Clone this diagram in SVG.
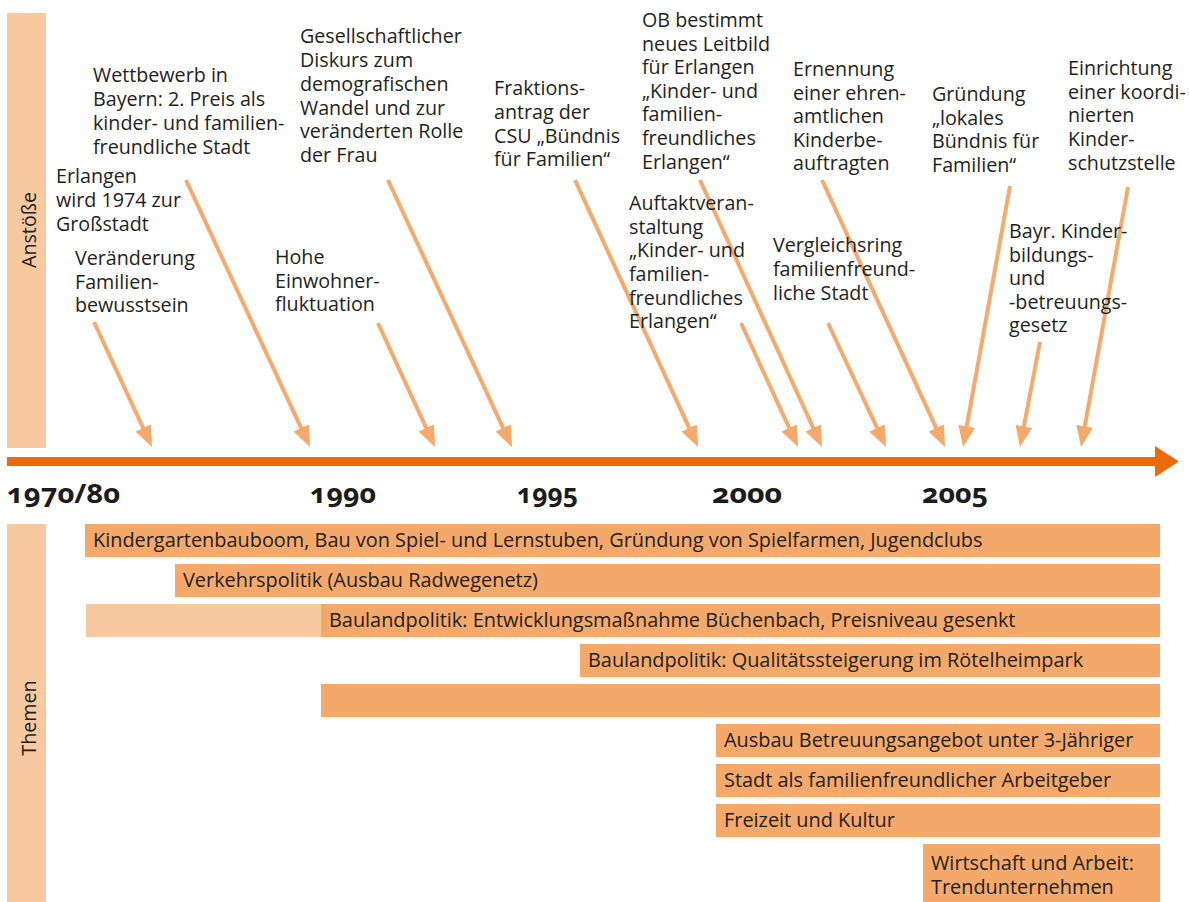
<svg xmlns="http://www.w3.org/2000/svg" width="1189" height="902" viewBox="0 0 1189 902">
<defs>
<style>
.t{font-family:"Open Sans","Noto Sans","Liberation Sans",sans-serif;font-size:19.7px;fill:#231f20}
.b{font-family:"Open Sans","Noto Sans","Liberation Sans",sans-serif;font-size:19.9px;fill:#231f20}
.yr{font-family:"Open Sans","Noto Sans","Liberation Sans",sans-serif;font-size:27px;font-weight:bold;fill:#1d1b1c;font-variant-numeric:oldstyle-nums}
.side{fill:#f8c9a0}
.bar{fill:#f4a96b}
.light{fill:#f8c9a0}
.arr{stroke:#f5a96b;stroke-width:4;fill:none;marker-end:url(#ah)}
.axis{fill:#e96b0c}
</style>
<marker id="ah" viewBox="0 0 21 17" refX="15" refY="8.5" markerWidth="21" markerHeight="17" markerUnits="userSpaceOnUse" orient="auto">
<path d="M0,0 L21,8.5 L0,17 z" fill="#f5a96b"/>
</marker>
</defs>
<rect width="1189" height="902" fill="#ffffff"/>

<g id="sidebar-anstoesse">
<rect class="side" x="7" y="13" width="39" height="435"/>
<text class="t" transform="translate(36,230) rotate(-90)" text-anchor="middle">Anstöße</text>
</g>
<g id="sidebar-themen">
<rect class="side" x="7" y="524" width="39" height="378"/>
<text class="t" transform="translate(36,718) rotate(-90)" text-anchor="middle">Themen</text>
</g>

<g id="axis">
<rect class="axis" x="7" y="457" width="1150" height="9"/>
<polygon class="axis" points="1155,446 1179,461.5 1155,477"/>
<text class="yr" x="7" y="503" textLength="113" lengthAdjust="spacingAndGlyphs">1970/80</text>
<text class="yr" x="310" y="503" textLength="66" lengthAdjust="spacingAndGlyphs">1990</text>
<text class="yr" x="517" y="503" textLength="61" lengthAdjust="spacingAndGlyphs">1995</text>
<text class="yr" x="712" y="503" textLength="70" lengthAdjust="spacingAndGlyphs">2000</text>
<text class="yr" x="922" y="503" textLength="66" lengthAdjust="spacingAndGlyphs">2005</text>
</g>

<g id="connectors">
<line class="arr" x1="94" y1="322" x2="149.5" y2="441.6"/>
<line class="arr" x1="186" y1="180" x2="307.5" y2="441.6"/>
<line class="arr" x1="378" y1="323" x2="432.5" y2="441.6"/>
<line class="arr" x1="388" y1="180" x2="509.5" y2="441.6"/>
<line class="arr" x1="575" y1="180" x2="695.5" y2="441.6"/>
<line class="arr" x1="741" y1="323" x2="795.5" y2="441.6"/>
<line class="arr" x1="700" y1="180" x2="819.5" y2="441.6"/>
<line class="arr" x1="828" y1="323" x2="883.5" y2="441.6"/>
<line class="arr" x1="822" y1="180" x2="942.5" y2="441.6"/>
<line class="arr" x1="1010" y1="186" x2="964.1" y2="441.1"/>
<line class="arr" x1="1040" y1="342" x2="1021.1" y2="441.1"/>
<line class="arr" x1="1128" y1="187" x2="1082.1" y2="441.1"/>
</g>

<g id="n-wettbewerb"><text class="t">
<tspan x="93" y="82">Wettbewerb in</tspan>
<tspan x="93" y="106">Bayern: 2. Preis als</tspan>
<tspan x="93" y="130">kinder- und familien-</tspan>
<tspan x="93" y="154">freundliche Stadt</tspan>
</text></g>
<g id="n-erlangen"><text class="t">
<tspan x="56" y="183">Erlangen</tspan>
<tspan x="56" y="207">wird 1974 zur</tspan>
<tspan x="56" y="231">Großstadt</tspan>
</text></g>
<g id="n-veraenderung"><text class="t">
<tspan x="75" y="265">Veränderung</tspan>
<tspan x="75" y="288.5">Familien-</tspan>
<tspan x="75" y="312">bewusstsein</tspan>
</text></g>
<g id="n-hohe"><text class="t">
<tspan x="275" y="264">Hohe</tspan>
<tspan x="275" y="287.5">Einwohner-</tspan>
<tspan x="275" y="311">fluktuation</tspan>
</text></g>
<g id="n-gesellschaft"><text class="t">
<tspan x="300" y="43">Gesellschaftlicher</tspan>
<tspan x="300" y="67">Diskurs zum</tspan>
<tspan x="300" y="91">demografischen</tspan>
<tspan x="300" y="114.5">Wandel und zur</tspan>
<tspan x="300" y="138">veränderten Rolle</tspan>
<tspan x="300" y="162">der Frau</tspan>
</text></g>
<g id="n-fraktion"><text class="t">
<tspan x="494" y="95">Fraktions-</tspan>
<tspan x="494" y="119">antrag der</tspan>
<tspan x="494" y="142.5">CSU „Bündnis</tspan>
<tspan x="494" y="166">für Familien“</tspan>
</text></g>
<g id="n-ob"><text class="t">
<tspan x="642" y="27">OB bestimmt</tspan>
<tspan x="642" y="50.6">neues Leitbild</tspan>
<tspan x="642" y="74.2">für Erlangen</tspan>
<tspan x="642" y="97.8">„Kinder- und</tspan>
<tspan x="642" y="121.4">familien-</tspan>
<tspan x="642" y="145">freundliches</tspan>
<tspan x="642" y="168.6">Erlangen“</tspan>
</text></g>
<g id="n-auftakt"><text class="t">
<tspan x="629" y="210">Auftaktveran-</tspan>
<tspan x="629" y="233.7">staltung</tspan>
<tspan x="629" y="257.4">„Kinder- und</tspan>
<tspan x="629" y="281">familien-</tspan>
<tspan x="629" y="304.7">freundliches</tspan>
<tspan x="629" y="328.4">Erlangen“</tspan>
</text></g>
<g id="n-ernennung"><text class="t">
<tspan x="793" y="76">Ernennung</tspan>
<tspan x="793" y="99.5">einer ehren-</tspan>
<tspan x="793" y="123">amtlichen</tspan>
<tspan x="793" y="146.5">Kinderbe-</tspan>
<tspan x="793" y="170">auftragten</tspan>
</text></g>
<g id="n-vergleichsring"><text class="t">
<tspan x="773" y="252">Vergleichsring</tspan>
<tspan x="773" y="276">familienfreund-</tspan>
<tspan x="773" y="300">liche Stadt</tspan>
</text></g>
<g id="n-gruendung"><text class="t">
<tspan x="932" y="101">Gründung</tspan>
<tspan x="932" y="124.7">„lokales</tspan>
<tspan x="932" y="148.4">Bündnis für</tspan>
<tspan x="932" y="172">Familien“</tspan>
</text></g>
<g id="n-einrichtung"><text class="t">
<tspan x="1068" y="75">Einrichtung</tspan>
<tspan x="1068" y="98.7">einer koordi-</tspan>
<tspan x="1068" y="122.4">nierten</tspan>
<tspan x="1068" y="146">Kinder-</tspan>
<tspan x="1068" y="169.7">schutzstelle</tspan>
</text></g>
<g id="n-bayr"><text class="t">
<tspan x="1009" y="238">Bayr. Kinder-</tspan>
<tspan x="1009" y="261.5">bildungs-</tspan>
<tspan x="1009" y="285">und</tspan>
<tspan x="1009" y="308.5">-betreuungs-</tspan>
<tspan x="1009" y="332">gesetz</tspan>
</text></g>

<g id="bar-kindergarten">
<rect class="bar" x="85" y="524" width="1075" height="33"/>
<text class="b" x="93" y="547">Kindergartenbauboom, Bau von Spiel- und Lernstuben, Gründung von Spielfarmen, Jugendclubs</text>
</g>
<g id="bar-verkehr">
<rect class="bar" x="175" y="564" width="985" height="33"/>
<text class="b" x="183" y="587">Verkehrspolitik (Ausbau Radwegenetz)</text>
</g>
<g id="bar-bauland1">
<rect class="light" x="86" y="604" width="235" height="33"/>
<rect class="bar" x="321" y="604" width="839" height="33"/>
<text class="b" x="329" y="627">Baulandpolitik: Entwicklungsmaßnahme Büchenbach, Preisniveau gesenkt</text>
</g>
<g id="bar-bauland2">
<rect class="bar" x="580" y="644" width="580" height="33"/>
<text class="b" x="588" y="667">Baulandpolitik: Qualitätssteigerung im Rötelheimpark</text>
</g>
<g id="bar-empty">
<rect class="bar" x="321" y="684" width="839" height="33"/>
</g>
<g id="bar-betreuung">
<rect class="bar" x="716" y="724" width="444" height="33"/>
<text class="b" x="724" y="747">Ausbau Betreuungsangebot unter 3-Jähriger</text>
</g>
<g id="bar-arbeitgeber">
<rect class="bar" x="716" y="764" width="444" height="33"/>
<text class="b" x="724" y="787">Stadt als familienfreundlicher Arbeitgeber</text>
</g>
<g id="bar-freizeit">
<rect class="bar" x="716" y="804" width="444" height="33"/>
<text class="b" x="724" y="827">Freizeit und Kultur</text>
</g>
<g id="bar-wirtschaft">
<rect class="bar" x="923" y="844" width="237" height="58"/>
<text class="b"><tspan x="931" y="870">Wirtschaft und Arbeit:</tspan><tspan x="931" y="894">Trendunternehmen</tspan></text>
</g>
</svg>
